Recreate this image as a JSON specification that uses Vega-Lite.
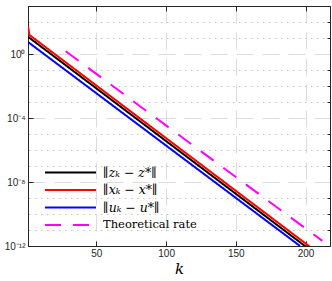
{
  "$schema": "https://vega.github.io/schema/vega-lite/v6.json",
  "width": 302,
  "height": 240,
  "autosize": {"type": "none"},
  "padding": {"left": 28, "top": 6, "right": 2, "bottom": 35},
  "background": "white",
  "config": {"view": {"stroke": "#262626", "strokeWidth": 1}},
  "data": {"values": [
    {"series": "∥zₖ − z*∥", "k": 1, "v": 12.0},
    {"series": "∥zₖ − z*∥", "k": 200, "v": 9.3e-13},
    {"series": "∥xₖ − x*∥", "k": 1, "v": 56},
    {"series": "∥xₖ − x*∥", "k": 2, "v": 15.5},
    {"series": "∥xₖ − x*∥", "k": 203, "v": 9.1e-13},
    {"series": "∥uₖ − u*∥", "k": 1, "v": 5.62},
    {"series": "∥uₖ − u*∥", "k": 196, "v": 1.0e-12},
    {"series": "Theoretical rate", "k": 28, "v": 1.48},
    {"series": "Theoretical rate", "k": 212, "v": 2.1e-12}
  ]},
  "resolve": {"axis": {"x": "independent", "y": "independent"}},
  "layer": [
    {
      "mark": {"type": "line", "opacity": 0, "clip": true},
      "encoding": {
        "x": {"field": "k", "type": "quantitative", "scale": {"domain": [1, 217.5], "nice": false, "zero": false},
          "axis": {"orient": "top", "values": [50, 100, 150, 200], "labels": false, "grid": false, "tickSize": -5, "tickColor": "#262626", "domainColor": "#262626", "title": null}},
        "y": {"field": "v", "type": "quantitative", "scale": {"type": "log", "domain": [1e-12, 1000], "nice": false},
          "axis": {"orient": "right", "values": [100, 10, 0.1, 0.01, 0.001, 1e-5, 1e-6, 1e-7, 1e-9, 1e-10, 1e-11], "labels": false, "grid": true, "gridDash": [1.5, 4.5], "gridColor": "#c4c4c4", "tickSize": -3, "tickColor": "#262626", "domainColor": "#262626", "title": null}},
        "detail": {"field": "series"}
      }
    },
    {
      "mark": {"type": "line", "strokeWidth": 2, "clip": true},
      "encoding": {
        "x": {"field": "k", "type": "quantitative", "scale": {"domain": [1, 217.5], "nice": false, "zero": false},
          "axis": {"orient": "bottom", "values": [50, 100, 150, 200], "grid": true, "gridDash": [17, 9], "gridColor": "#dcdcdc", "tickSize": -5, "tickColor": "#262626", "domainColor": "#262626", "labelFont": "Liberation Sans", "labelFontSize": 10, "labelColor": "#262626", "labelPadding": 7, "title": "k", "titleFont": "DejaVu Serif", "titleFontStyle": "italic", "titleFontWeight": "normal", "titleFontSize": 15, "titleColor": "#000000", "titlePadding": 3}},
        "y": {"field": "v", "type": "quantitative", "scale": {"type": "log", "domain": [1e-12, 1000], "nice": false},
          "axis": {"orient": "left", "values": [1, 0.0001, 1e-8, 1e-12], "labelExpr": "datum.value > 0.5 ? '10⁰' : datum.value > 1e-5 ? '10⁻⁴' : datum.value > 1e-9 ? '10⁻⁸' : '10⁻¹²'", "grid": true, "gridDash": [17, 9], "gridColor": "#dcdcdc", "tickSize": -5, "tickColor": "#262626", "domainColor": "#262626", "labelFont": "Liberation Sans", "labelFontSize": 10, "labelColor": "#262626", "labelPadding": 8, "title": null}},
        "color": {"field": "series", "type": "nominal",
          "scale": {"domain": ["∥zₖ − z*∥", "∥xₖ − x*∥", "∥uₖ − u*∥", "Theoretical rate"], "range": ["#000000", "#ff0000", "#0000ff", "#ff00ff"]},
          "legend": {"orient": "none", "legendX": 33, "legendY": 157, "title": null, "symbolType": "M-3,0H3", "symbolSize": 289, "symbolStrokeWidth": 2, "labelFont": "DejaVu Serif", "labelFontSize": 12.5, "labelColor": "#000000", "rowPadding": 1.5, "labelOffset": 23, "padding": 0,
            "encode": {"labels": {"update": {"fontStyle": {"signal": "datum.label == 'Theoretical rate' ? 'normal' : 'italic'"}, "fontSize": {"signal": "datum.label == 'Theoretical rate' ? 11.5 : 12.5"}}}}}},
        "strokeDash": {"field": "series", "type": "nominal",
          "scale": {"domain": ["∥zₖ − z*∥", "∥xₖ − x*∥", "∥uₖ − u*∥", "Theoretical rate"], "range": [[1, 0], [1, 0], [1, 0], [16, 12]]},
          "legend": {"orient": "none", "legendX": 33, "legendY": 157, "title": null, "symbolType": "M-3,0H3", "symbolSize": 289, "symbolStrokeWidth": 2, "labelFont": "DejaVu Serif", "labelFontSize": 12.5, "labelColor": "#000000", "rowPadding": 1.5, "labelOffset": 23, "padding": 0,
            "encode": {"labels": {"update": {"fontStyle": {"signal": "datum.label == 'Theoretical rate' ? 'normal' : 'italic'"}, "fontSize": {"signal": "datum.label == 'Theoretical rate' ? 11.5 : 12.5"}}}}}}
      }
    }
  ]
}
